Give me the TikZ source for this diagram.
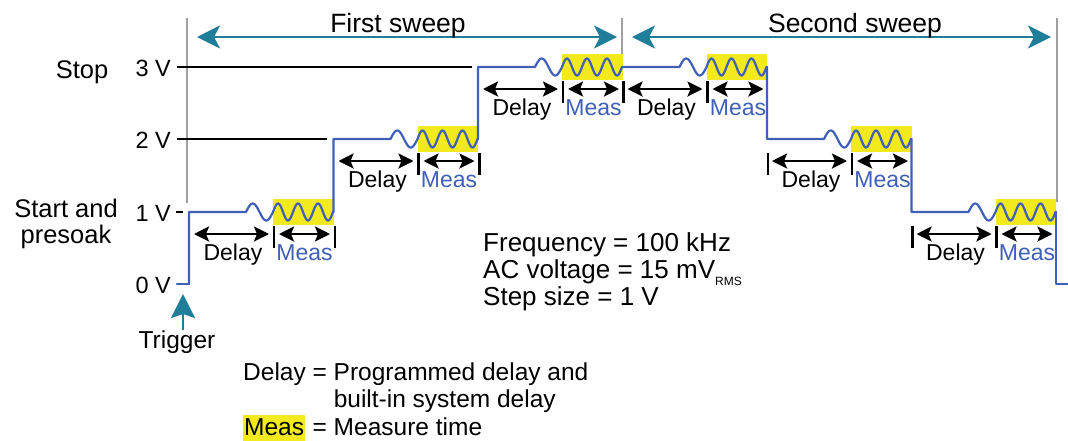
\documentclass[tikz,border=0pt]{standalone}
\usepackage{fontspec}
\setmainfont{Liberation Sans}
\usetikzlibrary{arrows.meta, positioning}

\definecolor{sweepteal}{HTML}{1F7E99}
\definecolor{wavblue}{HTML}{3F5FB8}
\definecolor{measyel}{HTML}{F2EA1C}
\definecolor{guidegray}{HTML}{A0A0A0}

\begin{document}
\begin{tikzpicture}[x=1pt, y=-1pt,
    txt/.style={anchor=base, inner sep=0pt, font=\fontsize{25.5}{28}\selectfont},
    vlbl/.style={anchor=base east, inner sep=0pt, font=\fontsize{23.5}{26}\selectfont},
    lbl/.style={anchor=base, inner sep=0pt, font=\fontsize{23}{25}\selectfont},
    guide/.style={guidegray, line width=1.2pt},
    lvl/.style={black, line width=2.3pt},
    wave/.style={wavblue, line width=2.2pt, line join=round, line cap=round},
    sweep/.style={sweepteal, line width=2.5pt,
      {Stealth[length=23pt, width=23pt, inset=6pt]}-{Stealth[length=23pt, width=23pt, inset=6pt]}},
    dim/.style={line width=2.6pt,
      {Stealth[length=15pt, width=15pt, inset=3pt]}-{Stealth[length=15pt, width=15pt, inset=3pt]}},
    bar/.style={line width=2.6pt},
    trigarrow/.style={sweepteal, line width=2.8pt, -{Stealth[length=24pt, width=24pt, inset=4pt]}}]
  \useasboundingbox (0,0) rectangle (1068,440);

  % sweep guides
  \draw[guide] (187,18) -- (187,203);
  \draw[guide] (622,18) -- (622,58);
  \draw[guide] (1057,18) -- (1057,202);
  \coordinate (s1l) at (197,37);
  \coordinate (s1r) at (617,37);
  \coordinate (s2l) at (632,37);
  \coordinate (s2r) at (1051,37);
  \draw[sweep] (s1l) -- (s1r);
  \draw[sweep] (s2l) -- (s2r);
  \node[txt, font=\fontsize{26.5}{28}\selectfont] (first) at (398,32) {First sweep};
  \node[txt, font=\fontsize{26.5}{28}\selectfont] (second) at (855,32) {Second sweep};

  % levels
  \node[txt] (stop) at (82,78) {Stop};
  \node[txt] (start) at (66,217) {Start and};
  \node[txt] (presoak) at (66,243) {presoak};
  \node[vlbl] (v3) at (171,76) {3 V};
  \node[vlbl] (v2) at (171,148) {2 V};
  \node[vlbl] (v1) at (171,221) {1 V};
  \node[vlbl] (v0) at (171,293) {0 V};
  \draw[lvl] (177,67) -- (472,67);
  \draw[lvl] (177,139) -- (327,139);
  \draw[lvl] (176,212) -- (183,212);

  % measure windows
  \foreach \s/\l in {189/212, 333.5/139, 478/67, 622.5/67, 767/139, 911.5/212}
    \fill[measyel] (\s+84,\l-13.5) rectangle (\s+144.5,\l+12.5);

  % staircase with AC signal
  \draw[wave] (177,284) -- (189,284);
  \foreach \s/\p/\l in {189/284/212, 333.5/212/139, 478/139/67, 622.5/67/67, 767/67/139, 911.5/139/212}
    \draw[wave] (\s,\p) -- (\s,\l) -- (\s+57,\l)
      -- plot[domain=0:27, samples=40] ({\s+57+\x},{\l-8.5*sin(\x*360/27)})
      -- plot[domain=0:60, samples=90] ({\s+84+\x},{\l-8.5*sin(\x*18)})
      -- (\s+144.5,\l);
  \draw[wave] (1056,212) -- (1056,284) -- (1068,284);

  % delay and meas spans
  \foreach \s/\l [count=\i] in {189/212, 333.5/139, 478/67, 622.5/67, 767/139, 911.5/212} {
    \draw[dim] (\s+5,\l+22) -- (\s+80,\l+22);
    \draw[dim] (\s+90,\l+22) -- (\s+141,\l+22);
    \draw[bar] (\s+85,\l+14) -- (\s+85,\l+36);
    \node[lbl] (d\i) at (\s+44,\l+48) {Delay};
    \node[lbl, text=wavblue] (m\i) at (\s+115.5,\l+48) {Meas};
  }
  \foreach \x/\l in {335/212, 479.5/139, 623.5/67, 768/139, 912.5/212}
    \draw[bar] (\x,\l+14) -- (\x,\l+36);

  % trigger
  \node[txt, font=\fontsize{24.5}{27}\selectfont] (trig) at (177,348) {Trigger};
  \coordinate (trigtip) at (183,294);
  \draw[trigarrow] (trigtip |- trig.north) -- (trigtip);

  % settings
  \node[anchor=base west, inner sep=0pt, font=\fontsize{26}{27}\selectfont] (info) at (483,251)
    {\begin{tabular}[t]{@{}l@{}}
      Frequency = 100 kHz\\
      AC voltage = 15 mV\raisebox{-7pt}{\fontsize{12}{12}\selectfont RMS}\\
      Step size = 1 V
    \end{tabular}};

  % legend
  \node[anchor=base west, inner sep=0pt, font=\fontsize{24.5}{27}\selectfont] (legend) at (243,380)
    {\setlength\fboxsep{1pt}\begin{tabular}[t]{@{}l@{\ }c@{\ }l@{}}
      Delay & = & Programmed delay and\\
      & & built-in system delay\\
      \colorbox{measyel}{\strut Meas} & = & Measure time
    \end{tabular}};
\end{tikzpicture}
\end{document}
